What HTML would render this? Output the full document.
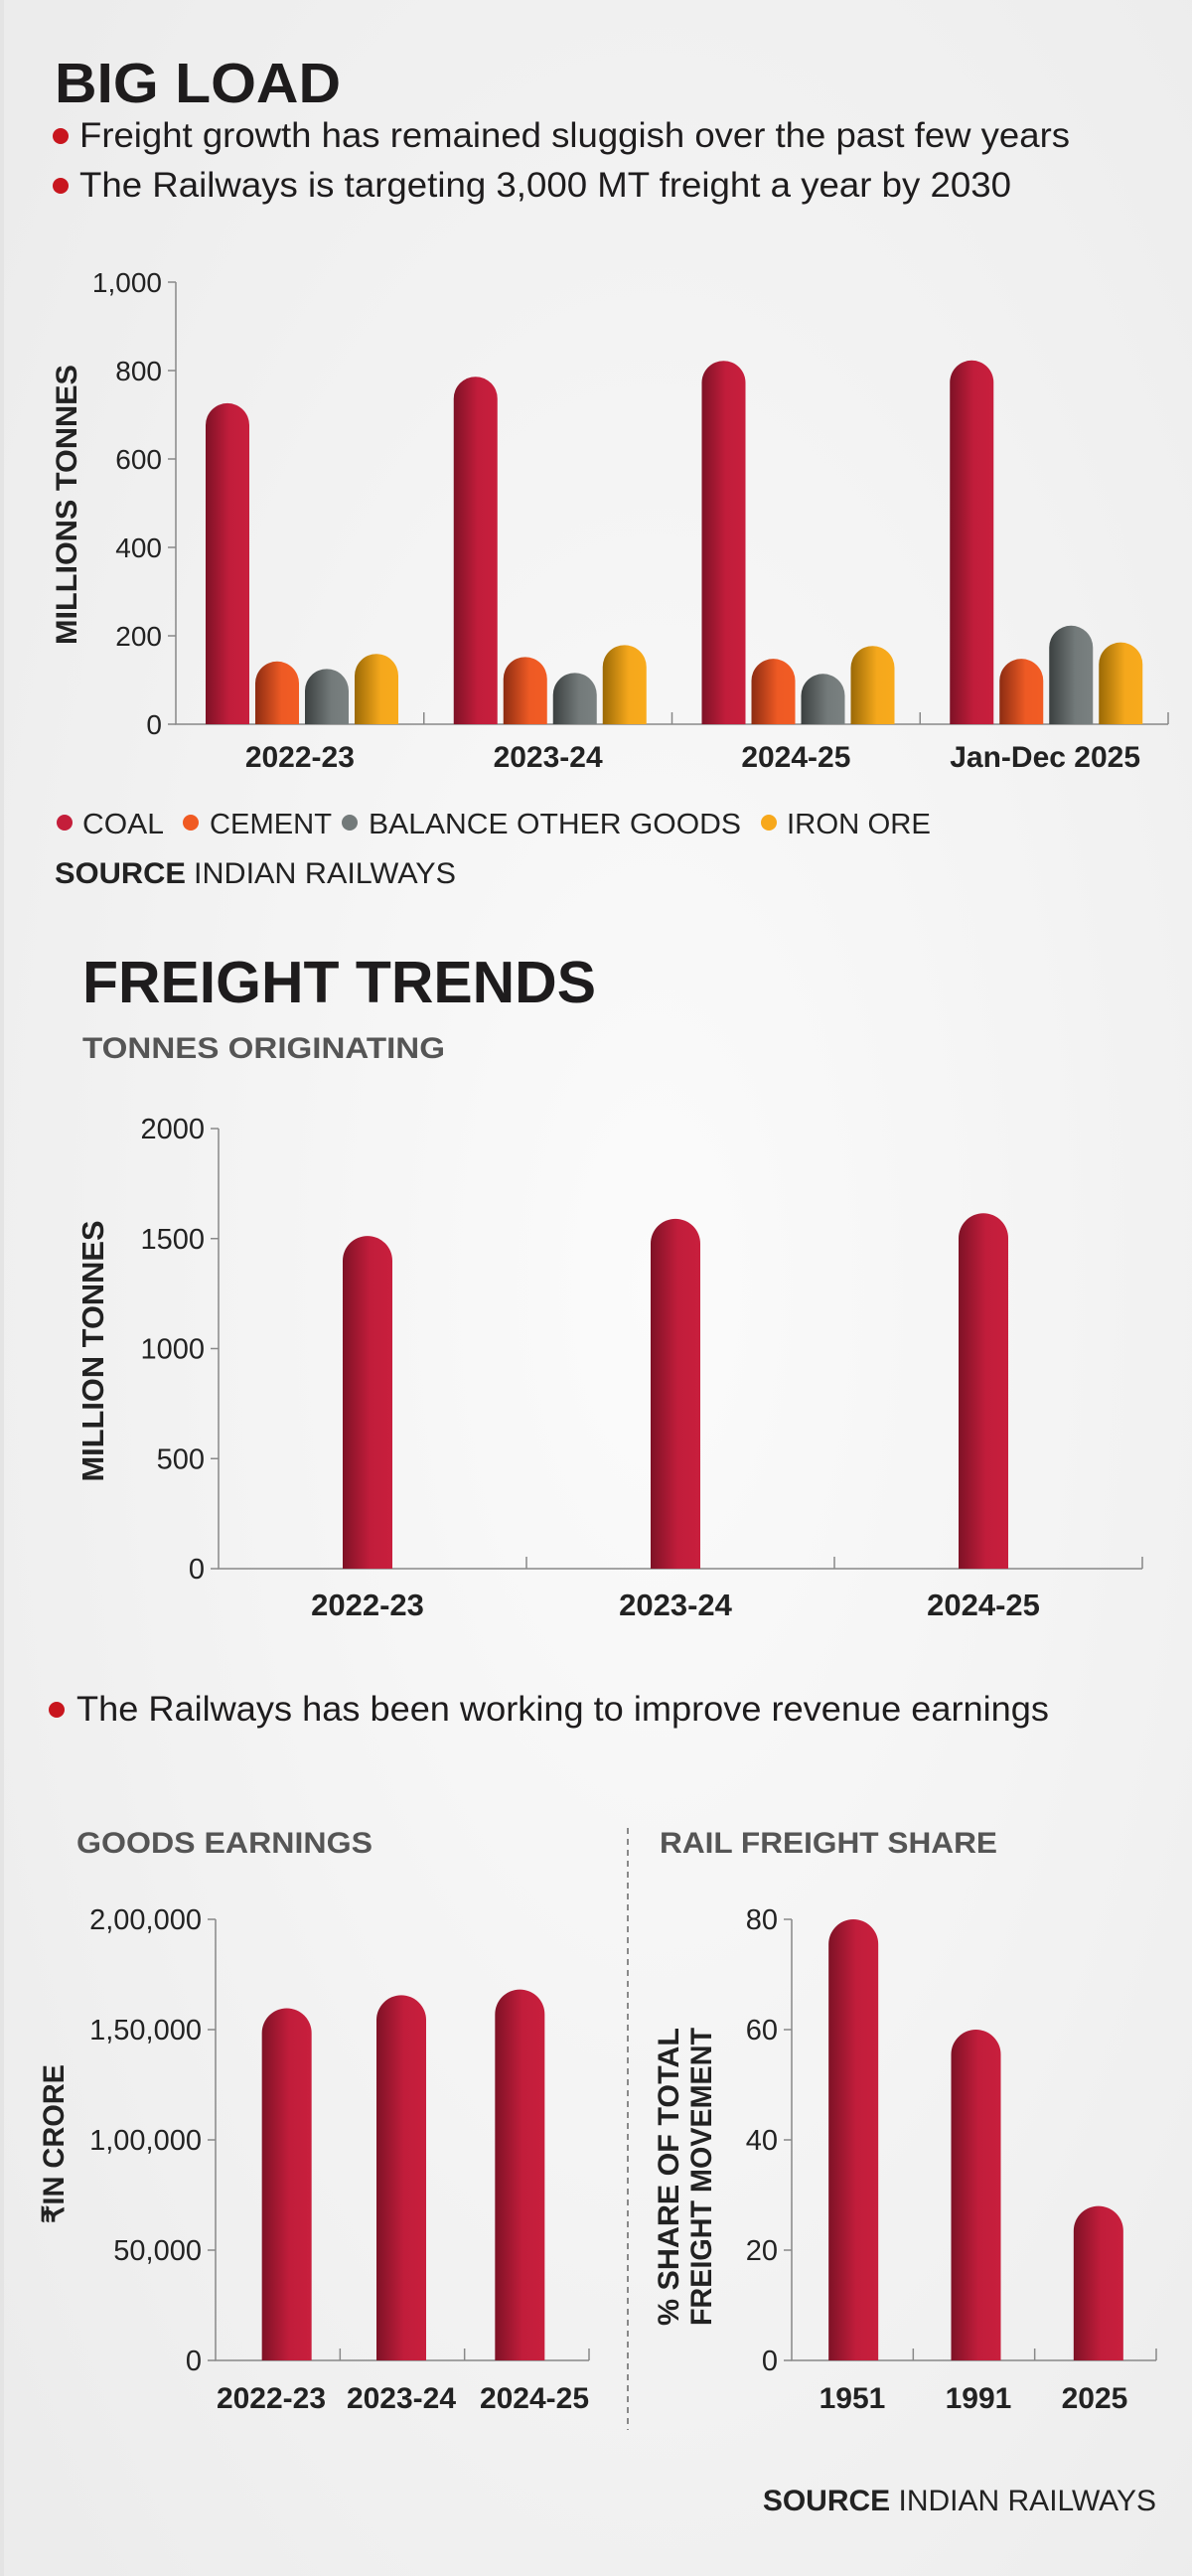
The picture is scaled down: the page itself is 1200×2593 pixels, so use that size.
<!DOCTYPE html>
<html><head><meta charset="utf-8">
<style>
html,body{margin:0;padding:0;background:#efefef;}
svg{display:block;}
text{font-family:"Liberation Sans",sans-serif;}
.bold{font-weight:bold;}
</style></head>
<body>
<svg id="root" width="1200" height="2593" viewBox="0 0 1200 2593" xmlns="http://www.w3.org/2000/svg">
<defs>
<radialGradient id="bg" cx="0.55" cy="0.5" r="0.7">
<stop offset="0" stop-color="#fbfbfb"/><stop offset="1" stop-color="#ececec"/>
</radialGradient>
<linearGradient id="gRed" x1="0" x2="1"><stop offset="0" stop-color="#7e1226"/><stop offset="0.55" stop-color="#c11d3b"/><stop offset="1" stop-color="#c81f3d"/></linearGradient>
<linearGradient id="gOrange" x1="0" x2="1"><stop offset="0" stop-color="#8c2c12"/><stop offset="0.6" stop-color="#ee5a24"/><stop offset="1" stop-color="#f25c24"/></linearGradient>
<linearGradient id="gGray" x1="0" x2="1"><stop offset="0" stop-color="#3b4040"/><stop offset="0.6" stop-color="#737a7a"/><stop offset="1" stop-color="#7a8181"/></linearGradient>
<linearGradient id="gGold" x1="0" x2="1"><stop offset="0" stop-color="#9a6906"/><stop offset="0.6" stop-color="#f5a81c"/><stop offset="1" stop-color="#f8aa1c"/></linearGradient>
</defs>
<rect x="0" y="0" width="1200" height="2593" fill="url(#bg)"/>
<rect x="0" y="0" width="4" height="2593" fill="#e4e4e4"/>

<text x="55" y="103" font-size="57" class="bold" fill="#1e1c1d" textLength="288" lengthAdjust="spacingAndGlyphs">BIG LOAD</text>
<circle cx="61" cy="137" r="8" fill="#c8161e"/>
<text x="80" y="148" font-size="35" fill="#1e1c1d" textLength="997" lengthAdjust="spacingAndGlyphs">Freight growth has remained sluggish over the past few years</text>
<circle cx="61" cy="187" r="8" fill="#c8161e"/>
<text x="80" y="198" font-size="35" fill="#1e1c1d" textLength="938" lengthAdjust="spacingAndGlyphs">The Railways is targeting 3,000 MT freight a year by 2030</text>

<g id="chart1"></g>

<g>
<circle cx="65" cy="828" r="8" fill="#c41e3a"/>
<text x="83" y="839" font-size="29" fill="#222" textLength="82" lengthAdjust="spacingAndGlyphs">COAL</text>
<circle cx="192" cy="828" r="8" fill="#f05a22"/>
<text x="211" y="839" font-size="29" fill="#222" textLength="123" lengthAdjust="spacingAndGlyphs">CEMENT</text>
<circle cx="352" cy="828" r="8" fill="#737a7a"/>
<text x="371" y="839" font-size="29" fill="#222" textLength="375" lengthAdjust="spacingAndGlyphs">BALANCE OTHER GOODS</text>
<circle cx="774" cy="828" r="8" fill="#f7a81b"/>
<text x="792" y="839" font-size="29" fill="#222" textLength="145" lengthAdjust="spacingAndGlyphs">IRON ORE</text>
</g>
<text x="55" y="889" font-size="30" fill="#222"><tspan class="bold" textLength="132" lengthAdjust="spacingAndGlyphs">SOURCE</tspan><tspan x="195" textLength="264" lengthAdjust="spacingAndGlyphs">INDIAN RAILWAYS</tspan></text>

<text x="83" y="1009" font-size="59" class="bold" fill="#1e1c1d" textLength="517" lengthAdjust="spacingAndGlyphs">FREIGHT TRENDS</text>
<text x="83" y="1065" font-size="30" class="bold" fill="#555" textLength="365" lengthAdjust="spacingAndGlyphs">TONNES ORIGINATING</text>

<g id="chart2"></g>

<circle cx="57" cy="1721" r="8" fill="#c8161e"/>
<text x="77" y="1732" font-size="35" fill="#1e1c1d" textLength="979" lengthAdjust="spacingAndGlyphs">The Railways has been working to improve revenue earnings</text>

<text x="77" y="1865" font-size="30" class="bold" fill="#555" textLength="298" lengthAdjust="spacingAndGlyphs">GOODS EARNINGS</text>
<text x="664" y="1865" font-size="30" class="bold" fill="#555" textLength="340" lengthAdjust="spacingAndGlyphs">RAIL FREIGHT SHARE</text>
<line x1="632" y1="1840" x2="632" y2="2446" stroke="#666" stroke-width="1.5" stroke-dasharray="6,5"/>

<g id="chart3"></g>
<g id="chart4"></g>

<text x="1164" y="2527" font-size="30" fill="#222" text-anchor="end"><tspan class="bold">SOURCE</tspan> INDIAN RAILWAYS</text>
</svg>

<script>
// Chart 1 data
const c1Categories = ["2022-23", "2023-24", "2024-25", "Jan-Dec 2025"];
const c1Coal = [726, 786, 822, 823];
const c1Cement = [142, 152, 148, 148];
const c1Other = [125, 116, 114, 223];
const c1IronOre = [159, 179, 177, 185];
const c1Ticks = [0, 200, 400, 600, 800, 1000];
const c1TickLabels = ["0", "200", "400", "600", "800", "1,000"];
// Chart 2 data
const c2Categories = ["2022-23", "2023-24", "2024-25"];
const c2Values = [1512, 1590, 1615];
const c2Ticks = [0, 500, 1000, 1500, 2000];
const c2TickLabels = ["0", "500", "1000", "1500", "2000"];
// Chart 3 data
const c3Categories = ["2022-23", "2023-24", "2024-25"];
const c3Values = [159700, 165600, 168200];
const c3Ticks = [0, 50000, 100000, 150000, 200000];
const c3TickLabels = ["0", "50,000", "1,00,000", "1,50,000", "2,00,000"];
// Chart 4 data
const c4Categories = ["1951", "1991", "2025"];
const c4Values = [80, 60, 28];
const c4Ticks = [0, 20, 40, 60, 80];
const c4TickLabels = ["0", "20", "40", "60", "80"];

const NS = "http://www.w3.org/2000/svg";
function mk(tag, attrs, parent) {
  const e = document.createElementNS(NS, tag);
  for (const k in attrs) e.setAttribute(k, attrs[k]);
  parent.appendChild(e);
  return e;
}
function barPath(x, w, yTop, yBase) {
  const r = w / 2;
  const top = Math.min(yTop + r, yBase);
  return `M${x},${yBase} L${x},${top} A${r},${r} 0 0 1 ${x + w},${top} L${x + w},${yBase} Z`;
}
function axes(g, cfg) {
  const y = v => cfg.y0 - (v - cfg.min) / (cfg.max - cfg.min) * (cfg.y0 - cfg.y1);
  const ax = mk("path", {d: `M${cfg.x0},${cfg.y1} L${cfg.x0},${cfg.y0} L${cfg.x1},${cfg.y0}`, fill: "none", stroke: "#888", "stroke-width": 1.5}, g);
  
  
  cfg.ticks.forEach((t, i) => {
    const tk = mk("line", {x1: cfg.x0 - 8, x2: cfg.x0, y1: y(t), y2: y(t), stroke: "#888", "stroke-width": 1.5}, g);
    
    
    const tl = mk("text", {x: cfg.x0 - 14, y: y(t) + 10, "font-size": cfg.fs, fill: "#222", "text-anchor": "end", "font-weight": "300"}, g);
    tl.textContent = cfg.tickLabels[i];
    
    
  });
  const n = cfg.cats.length, gw = (cfg.x1 - cfg.x0) / n;
  for (let i = 1; i <= n; i++) {
    const gx = cfg.x0 + gw * i;
    const tk = mk("line", {x1: gx, x2: gx, y1: cfg.y0 - 12, y2: cfg.y0, stroke: "#888", "stroke-width": 1.5}, g);
    
    
  }
  return {y, gw};
}
function xLabel(g, x, y, txt, fs) {
  const t = mk("text", {x: x, y: y, "font-size": fs, fill: "#222", "text-anchor": "middle", "font-weight": "bold"}, g);
  t.textContent = txt;
  
  
}
function yTitle(g, lines, cx, cy, fs, len) {
  lines.forEach((ln, i) => {
    const t = mk("text", {x: 0, y: 0, "font-size": fs, fill: "#222", "text-anchor": "middle", "font-weight": "bold",
      transform: `translate(${cx + i * (fs + 3)},${cy}) rotate(-90)`, textLength: len, lengthAdjust: "spacingAndGlyphs"}, g);
    t.textContent = ln;
    
    
  });
}

// Chart 1
(function () {
  const g = document.getElementById("chart1");
  const cfg = {x0: 177, x1: 1176, y0: 729, y1: 284, min: 0, max: 1000, ticks: c1Ticks, tickLabels: c1TickLabels, cats: c1Categories, fs: 28};
  const {y, gw} = axes(g, cfg);
  const series = [c1Coal, c1Cement, c1Other, c1IronOre];
  const fills = ["url(#gRed)", "url(#gOrange)", "url(#gGray)", "url(#gGold)"];
  const names = ["bar-coal", "bar-cement", "bar-other-goods", "bar-iron-ore"];
  c1Categories.forEach((c, i) => {
    const gx = cfg.x0 + gw * i;
    series.forEach((s, j) => {
      const bx = gx + 30 + j * 50;
      const b = mk("path", {d: barPath(bx, 44, y(s[i]), cfg.y0), fill: fills[j]}, g);
      
      
    });
    xLabel(g, gx + gw / 2 + (i === 3 ? 1 : 0), 772, c, 30);
  });
  yTitle(g, ["MILLIONS TONNES"], 77, 508, 30, 282);
})();

// Chart 2
(function () {
  const g = document.getElementById("chart2");
  const cfg = {x0: 220, x1: 1150, y0: 1579, y1: 1136, min: 0, max: 2000, ticks: c2Ticks, tickLabels: c2TickLabels, cats: c2Categories, fs: 29};
  const {y, gw} = axes(g, cfg);
  c2Categories.forEach((c, i) => {
    const cx = cfg.x0 + gw * i + gw / 2 - 5;
    const b = mk("path", {d: barPath(cx - 25, 50, y(c2Values[i]), cfg.y0), fill: "url(#gRed)"}, g);
    
    
    xLabel(g, cx, 1626, c, 31);
  });
  yTitle(g, ["MILLION TONNES"], 104, 1360, 31, 263);
})();

// Chart 3
(function () {
  const g = document.getElementById("chart3");
  const cfg = {x0: 217, x1: 593, y0: 2376, y1: 1932, min: 0, max: 200000, ticks: c3Ticks, tickLabels: c3TickLabels, cats: c3Categories, fs: 29};
  const {y, gw} = axes(g, cfg);
  c3Categories.forEach((c, i) => {
    const cx = cfg.x0 + gw * i + gw / 2 + (i === 0 ? 9 : i === 1 ? -1 : -7);
    const b = mk("path", {d: barPath(cx - 25, 50, y(c3Values[i]), cfg.y0), fill: "url(#gRed)"}, g);
    
    
    xLabel(g, [273, 404, 538][i], 2424, c, 30);
  });
  yTitle(g, ["₹IN CRORE"], 64, 2158, 30, 160);
})();

// Chart 4
(function () {
  const g = document.getElementById("chart4");
  const cfg = {x0: 797, x1: 1164, y0: 2376, y1: 1932, min: 0, max: 80, ticks: c4Ticks, tickLabels: c4TickLabels, cats: c4Categories, fs: 29};
  const {y, gw} = axes(g, cfg);
  c4Categories.forEach((c, i) => {
    const cx = cfg.x0 + gw * i + gw / 2 + (i === 0 ? 1 : i === 1 ? 2 : 3);
    const b = mk("path", {d: barPath(cx - 25, 50, y(c4Values[i]), cfg.y0), fill: "url(#gRed)"}, g);
    
    
    xLabel(g, [858, 985, 1102][i], 2424, c, 30);
  });
  yTitle(g, ["% SHARE OF TOTAL", "FREIGHT MOVEMENT"], 683, 2191, 30, 300);
})();
</script>
</body></html>
